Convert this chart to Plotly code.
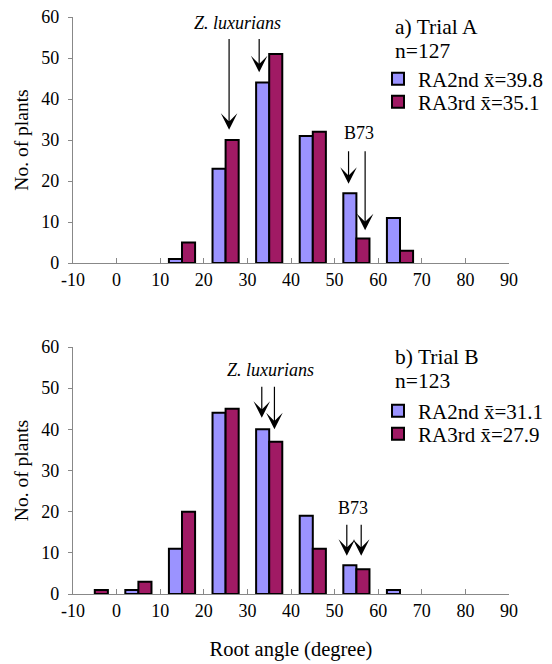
import plotly.graph_objects as go
from plotly.subplots import make_subplots

# ---- data ----
bin_centers = [-5, 5, 15, 25, 35, 45, 55, 65, 75, 85]
a_ra2 = [0, 0, 1, 23, 44, 31, 17, 11, 0, 0]
a_ra3 = [0, 0, 5, 30, 51, 32, 6, 3, 0, 0]
b_ra2 = [0, 1, 11, 44, 40, 19, 7, 1, 0, 0]
b_ra3 = [1, 3, 20, 45, 37, 11, 6, 0, 0, 0]
x_ticks = [-10, 0, 10, 20, 30, 40, 50, 60, 70, 80, 90]
x_ticktext = ["-10", "0", "10", "20", "30", "40", "50", "60", "70", "80", "90"]
y_ticks = [0, 10, 20, 30, 40, 50, 60]

legend_a = ["RA2nd x\u0304=39.8", "RA3rd x\u0304=35.1"]
legend_b = ["RA2nd x\u0304=31.1", "RA3rd x\u0304=27.9"]
titles = ["a) Trial A", "b) Trial B"]
ns = ["n=127", "n=123"]

# arrows: (x, y_start, y_tip)
arrows_a = [(25.8, 55, 32.5), (32.7, 55, 46.5), (53.2, 27.6, 19.3), (57.0, 27.6, 8.0)]
arrows_b = [(33.3, 50.7, 42.8), (36.2, 50.7, 40.0), (52.8, 17.2, 9.3), (56.1, 17.2, 9.3)]
labels_a = [("Z. luxurians", 27.8, 58.5, True), ("B73", 55.6, 31.7, False)]
labels_b = [("Z. luxurians", 35.4, 54.4, True), ("B73", 54.2, 20.9, False)]

FONT = "Liberation Serif"
BLUE = "#9b93ff"
MAG = "#a01a64"

fig = make_subplots(rows=2, cols=1, vertical_spacing=0.1)

def nz(vals):
    return [v if v != 0 else None for v in vals]

series = [
    (1, a_ra2, BLUE, legend_a[0], "legend"),
    (1, a_ra3, MAG, legend_a[1], "legend2"),
    (2, b_ra2, BLUE, legend_b[0], "legend3"),
    (2, b_ra3, MAG, legend_b[1], "legend4"),
]
for row, vals, col, name, lg in series:
    fig.add_trace(go.Bar(x=bin_centers, y=nz(vals), name=name, legend=lg, showlegend=True,
                         marker=dict(color=col, line=dict(color="black", width=2))),
                  row=row, col=1)

# page has an 8px body margin; screen pixel -> paper coords
OFF = 8
L, T, B_, R_ = 73 - OFF, 17 - OFF, 70, 43
W, H = 552 - OFF, 664 - OFF
H0, H1 = 594, 17
def py(p):
    return (H0 - p) / (H0 - H1)
def px(p):
    return (p - 73) / 436

legend_pos = [("legend", py(79)), ("legend2", py(102)),
              ("legend3", py(411)), ("legend4", py(434))]
lay = {}
for key, yv in legend_pos:
    lay[key] = dict(x=px(378), y=yv, xanchor="left", yanchor="middle", visible=True,
                    bgcolor="rgba(0,0,0,0)", font=dict(family=FONT, size=21, color="black"))

fig.update_layout(
    template="none",
    width=W, height=H,
    margin=dict(l=L, r=R_, t=T, b=B_, autoexpand=False),
    paper_bgcolor="white", plot_bgcolor="white",
    barmode="group", bargap=0.4, bargroupgap=0, showlegend=True,
    font=dict(family=FONT, size=18, color="black"),
    **lay,
)
fig.update_layout(yaxis=dict(domain=[py(263), 1.0]), yaxis2=dict(domain=[0.0, py(347)]))

for r in (1, 2):
    fig.update_xaxes(range=[-10, 90], tickvals=x_ticks, ticktext=x_ticktext, ticks="inside", ticklen=5,
                     tickcolor="#888", showline=True, linecolor="#888", linewidth=1.2,
                     showgrid=False, zeroline=False, automargin=False, ticklabeloverflow="allow",
                     tickfont=dict(size=18, family=FONT, color="black"), row=r, col=1)
    fig.update_yaxes(range=[0, 60], tickvals=y_ticks, ticks="outside", ticklen=4,
                     tickcolor="#888", showline=True, linecolor="#888", linewidth=1.2,
                     showgrid=False, zeroline=False, automargin=False, ticklabelstandoff=5,
                     ticklabeloverflow="allow",
                     tickfont=dict(size=18, family=FONT, color="black"),
                     title=dict(text="No. of plants", font=dict(size=19.5, family=FONT, color="black"), standoff=7),
                     row=r, col=1)
fig.update_xaxes(title=dict(text="Root angle (degree)", font=dict(size=20.5, family=FONT, color="black"), standoff=21), row=2, col=1)

ann = []
for (xr, yr), arrows, labels, ttl, n, top in [(("x", "y"), arrows_a, labels_a, titles[0], ns[0], 27),
                                               (("x2", "y2"), arrows_b, labels_b, titles[1], ns[1], 357)]:
    for x, y0, y1 in arrows:
        ann.append(dict(x=x, y=y1, ax=x, ay=y0, xref=xr, yref=yr, axref=xr, ayref=yr,
                        text="", showarrow=True, arrowhead=3, arrowsize=2.3, arrowwidth=1.2,
                        arrowcolor="black"))
    for t, x, y, it in labels:
        ann.append(dict(x=x, y=y, xref=xr, yref=yr, showarrow=False,
                        text=f"<i>{t}</i>" if it else t,
                        font=dict(size=18, family=FONT, color="black")))
    ann.append(dict(x=px(393), y=py(top), xref="paper", yref="paper", xanchor="left",
                    yanchor="middle", showarrow=False, text=ttl,
                    font=dict(size=21.5, family=FONT, color="black")))
    ann.append(dict(x=px(393), y=py(top + 24), xref="paper", yref="paper", xanchor="left",
                    yanchor="middle", showarrow=False, text=n,
                    font=dict(size=21.5, family=FONT, color="black")))
fig.update_layout(annotations=ann)

fig.write_html("out.html")
